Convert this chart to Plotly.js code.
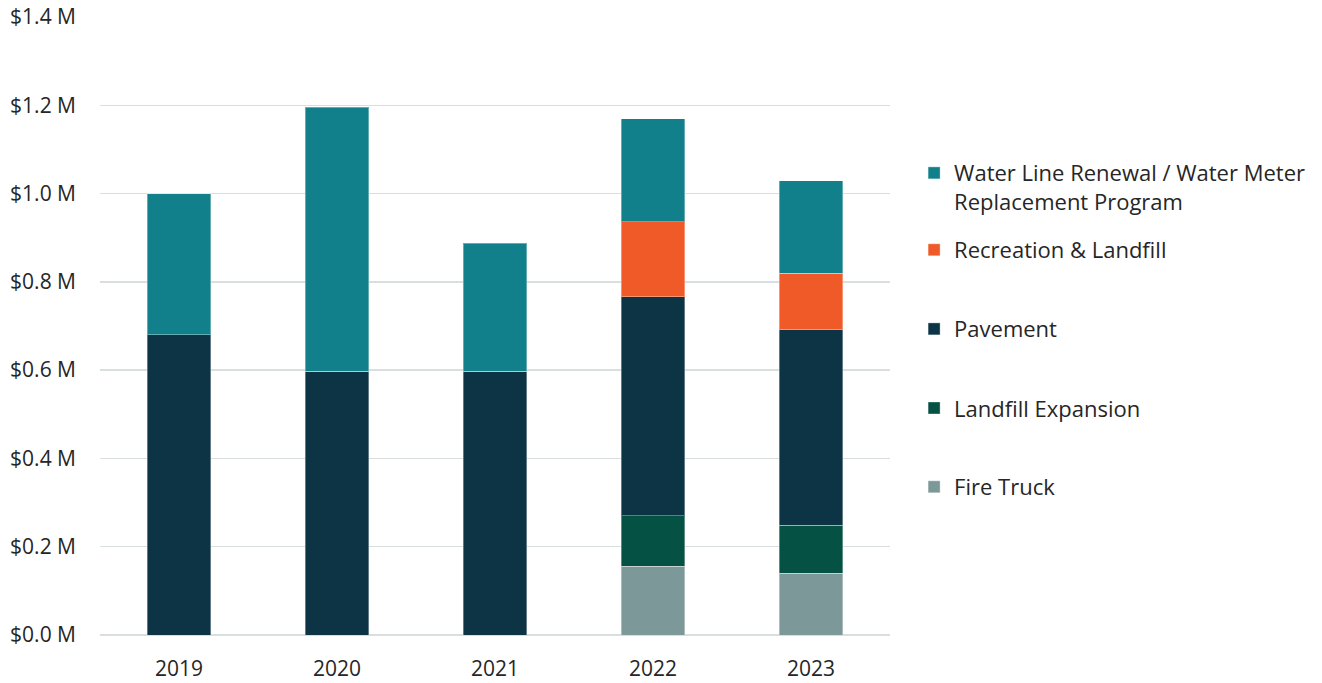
<!DOCTYPE html>
<html>
<head>
<meta charset="utf-8">
<script src="https://cdn.plot.ly/plotly-3.0.1.min.js"></script>
<style>html,body{margin:0;padding:0;background:#fff;}#chart{width:1322px;height:683px;}</style>
</head>
<body>
<div id="chart"></div>
<script>
const years = ["2019", "2020", "2021", "2022", "2023"];
// values in $ millions
const fireTruck = [0, 0, 0, 0.156, 0.140];
const landfillExpansion = [0, 0, 0, 0.114, 0.109];
const pavement = [0.680, 0.598, 0.598, 0.496, 0.442];
const recreationLandfill = [0, 0, 0, 0.170, 0.129];
const waterLine = [0.320, 0.598, 0.290, 0.233, 0.209];

const seriesNames = ["Fire Truck", "Landfill Expansion", "Pavement", "Recreation & Landfill", "Water Line Renewal / Water Meter<br>Replacement Program"];
const seriesColors = ["#7D9898", "#055244", "#0D3445", "#F05A28", "#11808A"];
const seriesValues = [fireTruck, landfillExpansion, pavement, recreationLandfill, waterLine];
const legendIds = ["legend5", "legend4", "legend3", "legend2", "legend"];
const legendY = [0.2395, 0.367, 0.495, 0.623, 0.724];

const traces = seriesValues.map((vals, i) => ({
  type: "bar",
  x: years,
  y: vals,
  name: seriesNames[i],
  legend: legendIds[i],
  marker: {color: seriesColors[i], line: {color: "rgba(255,255,255,0.35)", width: 1}},
  width: 0.4,
  hoverinfo: "y+name"
}));

const layout = {
  barmode: "stack",
  width: 1322,
  height: 683,
  margin: {l: 100, r: 432, t: 17, b: 48, autoexpand: false},
  paper_bgcolor: "#ffffff",
  plot_bgcolor: "#ffffff",
  font: {family: "Open Sans, Noto Sans, sans-serif", color: "#262626", size: 21},
  xaxis: {
    type: "category",
    showgrid: false,
    zeroline: false,
    showline: false,
    ticks: "",
    ticklabelstandoff: 19,
    tickfont: {size: 21, color: "#262626"}
  },
  yaxis: {
    range: [0, 1.4],
    dtick: 0.2,
    tick0: 0,
    tickformat: ".1f",
    tickprefix: "$",
    ticksuffix: " M",
    showgrid: true,
    gridcolor: "#D9DFDE",
    gridwidth: 1.5,
    zeroline: true,
    zerolinecolor: "#D9DFDE",
    zerolinewidth: 1.5,
    showline: false,
    ticks: "",
    ticklabelstandoff: 23,
    tickfont: {size: 21, color: "#262626"}
  },
  showlegend: true
};

legendIds.forEach((id, i) => {
  layout[id] = {
    x: 1.0305,
    xanchor: "left",
    y: legendY[i],
    yanchor: "middle",
    valign: "top",
    bgcolor: "rgba(0,0,0,0)",
    font: {size: 22, color: "#262626"}
  };
});

Plotly.newPlot("chart", traces, layout, {displayModeBar: false, staticPlot: true});
</script>
</body>
</html>
